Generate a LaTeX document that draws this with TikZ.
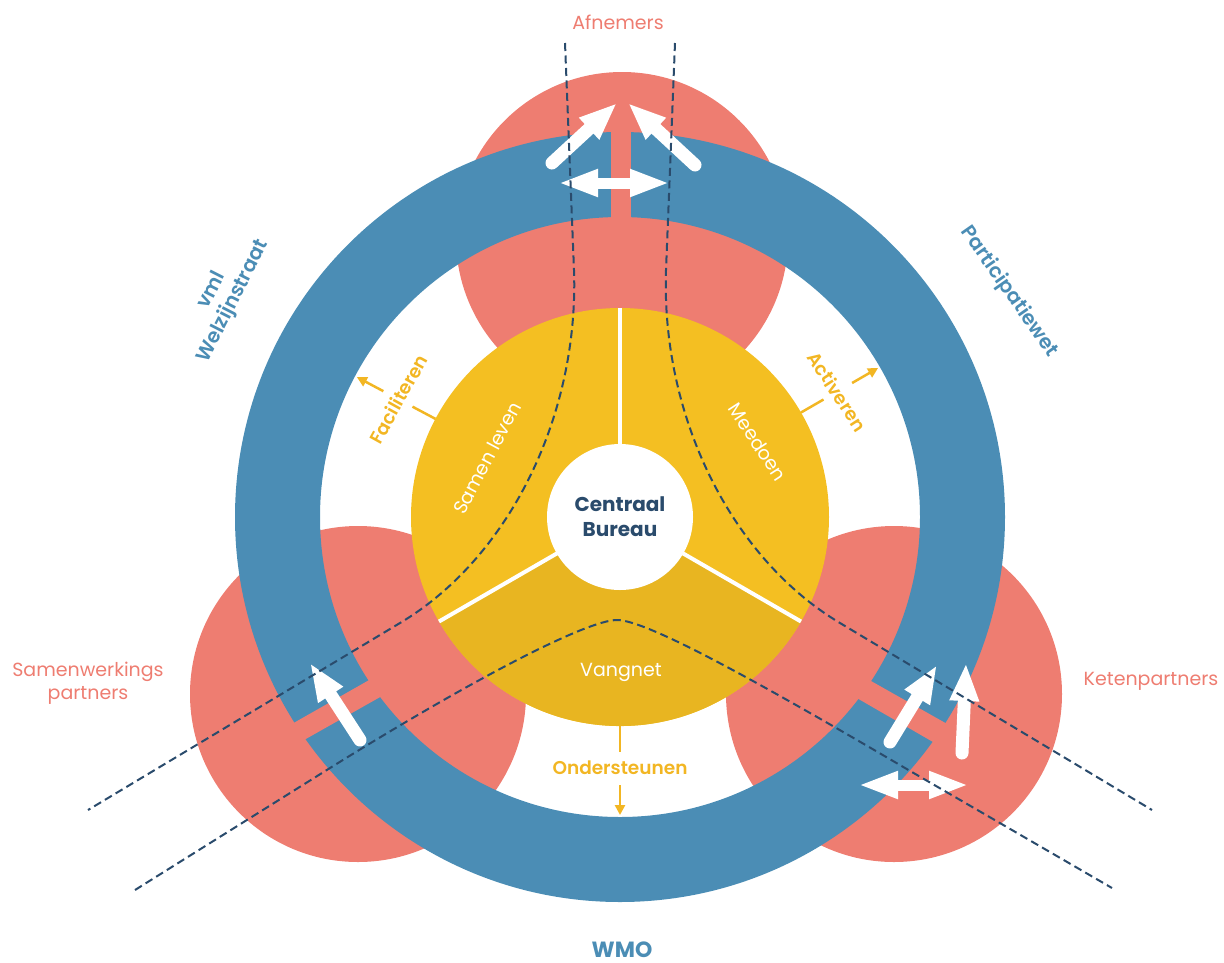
\documentclass[tikz,border=0pt]{standalone}
\usepackage{fontspec}
\setmainfont{Poppins}
\newfontfamily\medium{Poppins Medium}
\newfontfamily\halfvet{Poppins SemiBold}
\usetikzlibrary{arrows.meta,calc,positioning}
\definecolor{rood}{HTML}{EE7D71}
\definecolor{blauw}{HTML}{4B8DB5}
\definecolor{geel}{HTML}{F4BF22}
\definecolor{donkergeel}{HTML}{E8B521}
\definecolor{oranjegeel}{HTML}{F2B623}
\definecolor{navy}{HTML}{2A4B6C}

\begin{document}
\begin{tikzpicture}[x=1pt,y=-1pt]

    \tikzset{
      pijl/.style={
        white,
        line width=13pt,
        line cap=round,
        -{Triangle[length=38pt,width=27pt]},
      },
      dubbel/.style={
        white,
        line width=11pt,
        {Triangle[length=40pt,width=25pt]}-{Triangle[length=40pt,width=25pt]},
      },
      stippel/.style={navy, line width=2pt, dash pattern=on 8pt off 4.5pt},
      streep/.style={oranjegeel, line width=2.5pt},
      klein/.style={streep, -{Triangle[length=10pt,width=10pt]}},
      partner/.style={rood, font=\fontsize{19}{23}\selectfont, align=center},
      wet/.style={blauw, font=\halfvet\fontsize{20}{24}\selectfont, align=center},
      rol/.style={oranjegeel, font=\halfvet\fontsize{18.5}{22}\selectfont},
      taak/.style={white, font=\fontsize{19}{23}\selectfont},
    }
    \useasboundingbox (0,0) rectangle (1224,962);
    \coordinate (c) at (620,517);

    % afnemers en partners
    \fill[rood] (622,238) circle[radius=166];
    \fill[rood] (358,694) circle[radius=168];
    \fill[rood] (894,694) circle[radius=168];

    % ring met openingen
    \fill[blauw, even odd rule] (c) circle[radius=385] (c) circle[radius=300];
    \begin{scope}
      \clip (c) circle[radius=386];
      \fill[rood] (611,110) rectangle (631,240);
      \fill[rood] (269,737) -- (392,667) -- (405,683) -- (281,753) -- cycle;
      \fill[rood] (848,668) -- (972,738) -- (959,757) -- (836,686) -- cycle;
    \end{scope}

    % kern
    \fill[geel] (c) circle[radius=209];
    \fill[donkergeel] (c) -- ($(c)+(150:209)$) arc[start angle=150, end angle=30, radius=209] -- cycle;
    \foreach \a in {30,150,270}
      \draw[white, line width=4pt] ($(c)+(\a:70)$) -- ($(c)+(\a:209)$);
    \node[circle, fill=white, minimum size=146pt, inner sep=0pt, text=navy, align=center,
      font=\bfseries\fontsize{20}{25}\selectfont] (cb) at (c) {Centraal\\Bureau};

    % pijlen
    \coordinate (t1) at (552,163); \coordinate (t1e) at (617,103);
    \coordinate (t2) at (695,165); \coordinate (t2e) at (628,103);
    \coordinate (t3) at (558,183); \coordinate (t3e) at (670,183);
    \coordinate (l1) at (360,740); \coordinate (l1e) at (310,663);
    \coordinate (r1) at (890,742); \coordinate (r1e) at (937,665);
    \coordinate (r2) at (962,753); \coordinate (r2e) at (966,663);
    \coordinate (r3) at (858,785); \coordinate (r3e) at (969,785);
    \draw[pijl] (t1) -- (t1e);
    \draw[pijl] (t2) -- (t2e);
    \draw[dubbel] (t3) -- (t3e);
    \draw[pijl] (l1) -- (l1e);
    \draw[pijl] (r1) -- (r1e);
    \draw[pijl] (r2) -- (r2e);
    \draw[dubbel] (r3) -- (r3e);

    % stippellijnen
    \draw[stippel] (565,43) -- (574,270) .. controls (579,416) and (509,558) .. (400,623) -- (88,810);
    \draw[stippel] (675,43) -- (666,270) .. controls (661,416) and (731,558) .. (840,623) -- (1152,810);
    \draw[stippel] (135,890) -- (330,768) .. controls (473,679) and (587,620) .. (617,620)
      .. controls (647,620) and (760,683) .. (905,768) -- (1112,888);

    % rollen
    \foreach \n/\a in {fac/-152,act/-30,ond/90} {
      \coordinate (\n1) at ($(c)+(\a:209)$);
      \coordinate (\n2) at ($(c)+(\a:235)$);
      \coordinate (\n3) at ($(c)+(\a:268)$);
      \coordinate (\n4) at ($(c)+(\a:298)$);
      \draw[streep] (\n1) -- (\n2);
      \draw[klein] (\n3) -- (\n4);
    }
    \node[rol, rotate=61] (fac) at ($(c)+(-152:251)$) {Faciliteren};
    \node[rol, rotate=-57] (act) at ($(c)+(-30:251)$) {Activeren};
    \node[rol] (ond) at ($(c)+(90:251)$) {Ondersteunen};

    \node[taak, rotate=62] (sl) at (487,458) {Samen leven};
    \node[taak, rotate=-57] (md) at (758,442) {Meedoen};
    \node[taak] (vn) at (621,672) {Vangnet};

    % labels buiten
    \node[partner] (afn) at (618,22) {Afnemers};
    \node[partner] (sam) at (88,683) {Samenwerkings\\partners};
    \node[partner] (ket) at (1151,681) {Ketenpartners};
    \node[blauw, anchor=base, inner sep=0pt, font=\bfseries\fontsize{22}{26}\selectfont] (wmo) at (622,957) {WMO};
    \node[wet, rotate=-55] (par) at (1009,292) {Participatiewet};
    \node[wet, rotate=63] (wel) at (223,296) {vml\\Welzijnstraat};

\end{tikzpicture}
\end{document}
